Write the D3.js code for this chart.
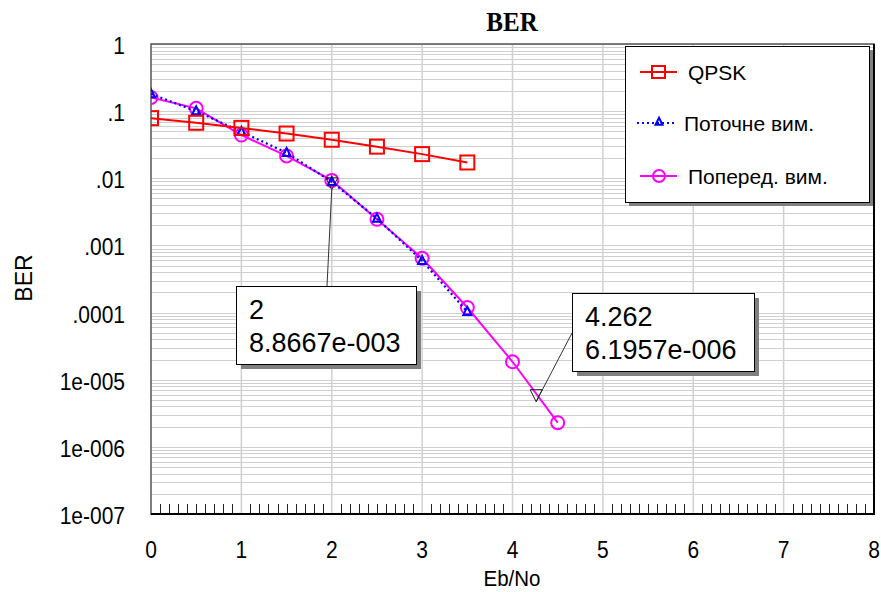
<!DOCTYPE html>
<html><head><meta charset="utf-8">
<script src="https://cdn.jsdelivr.net/npm/d3@7"></script>
<style>body{margin:0;background:#fff}svg{display:block}</style>
</head><body><svg id="chart" width="881" height="592"></svg>
<script>
// Bit error rate versus Eb/No for QPSK and two measurement runs
const ebno = [0, 0.5, 1, 1.5, 2, 2.5, 3, 3.5, 4, 4.5];
const qpsk = [0.0786, 0.0671, 0.0563, 0.0464, 0.0375, 0.0296, 0.0229, 0.0172];
const current = [0.18, 0.100, 0.0494, 0.0240, 0.0088667, 0.00252, 0.000592, 0.000103];
const previous = [0.16, 0.110, 0.0441, 0.0215, 0.0093, 0.00245, 0.000643, 0.000119, 0.0000185, 0.00000229];
const seriesNames = ["QPSK", "Поточне вим.", "Поперед. вим."];
const yTickValues = [1, 0.1, 0.01, 0.001, 0.0001, 1e-5, 1e-6, 1e-7];
const yTickLabels = ["1", ".1", ".01", ".001", ".0001", "1e-005", "1e-006", "1e-007"];
const xTickValues = [0, 1, 2, 3, 4, 5, 6, 7, 8];
const markerX = [2, 4.262];
const markerY = [8.8667e-3, 6.1957e-6];
const markerLabels = [["2", "8.8667e-003"], ["4.262", "6.1957e-006"]];

const svg = d3.select("#chart");
const L = 151, R = 874, T = 44, B = 514;
const x = d3.scaleLinear().domain([0, 8]).range([L, R]);
const y = d3.scaleLog().domain([1e-7, 1]).range([B, T]);
const font = "Arial, 'Liberation Sans', sans-serif";

// text that is slightly taller than wide, anchored at its baseline
function tallText(parent, tx, ty, str, size, anchor, sy) {
  parent.append("g").attr("transform", `translate(${tx},${ty}) scale(1,${sy})`)
    .append("text").attr("text-anchor", anchor)
    .attr("font-family", font).attr("font-size", size).text(str);
}

svg.append("rect").attr("x", L).attr("y", T).attr("width", R - L).attr("height", B - T).attr("fill", "#fff");

// horizontal grid at every log subdivision
svg.append("g").selectAll("line").data(y.ticks()).join("line")
  .attr("x1", L).attr("x2", R)
  .attr("y1", d => Math.round(y(d)) + 0.5).attr("y2", d => Math.round(y(d)) + 0.5)
  .attr("stroke", "#cfcfcf").attr("stroke-width", 1);

// vertical grid at integer Eb/No
svg.append("g").selectAll("line").data(xTickValues.slice(1, -1)).join("line")
  .attr("x1", d => x(d)).attr("x2", d => x(d))
  .attr("y1", T).attr("y2", B)
  .attr("stroke", "#d0d0d0").attr("stroke-width", 1.5);

// minor x ticks every 0.1 along the bottom
svg.append("g").selectAll("line")
  .data(x.ticks(80).filter(d => Math.abs(d - Math.round(d)) > 1e-6))
  .join("line")
  .attr("x1", d => Math.round(x(d)) + 0.5).attr("x2", d => Math.round(x(d)) + 0.5)
  .attr("y1", B).attr("y2", B - 10)
  .attr("stroke", "#222").attr("stroke-width", 1);

// frame
svg.append("rect").attr("x", L).attr("y", T).attr("width", R - L).attr("height", B - T)
  .attr("fill", "none").attr("stroke", "#555").attr("stroke-width", 1.5);
svg.append("path").attr("d", `M${L},${B}H${R}V${T}`)
  .attr("fill", "none").attr("stroke", "#000").attr("stroke-width", 2);

// axis labels
const yAxisG = svg.append("g");
yTickValues.forEach((v, i) => tallText(yAxisG, 125, y(v) + 10, yTickLabels[i], 21, "end", 1.1));
const xAxisG = svg.append("g");
xTickValues.forEach(v => tallText(xAxisG, x(v), 558, String(v), 21, "middle", 1.1));

svg.append("g").attr("transform", "translate(512,31) scale(1,1.07)").append("text")
  .attr("text-anchor", "middle")
  .attr("font-family", "'Times New Roman', 'Liberation Serif', serif").attr("font-weight", "bold")
  .attr("font-size", 25).text("BER");
tallText(svg, 512, 586, "Eb/No", 20.5, "middle", 1.1);
svg.append("text").attr("transform", "translate(31.5,278) rotate(-90)").attr("text-anchor", "middle")
  .attr("font-family", font).attr("font-size", 23).text("BER");

// plotted data, clipped to the plot area
svg.append("clipPath").attr("id", "plotClip").append("rect")
  .attr("x", L).attr("y", T).attr("width", R - L).attr("height", B - T);
const plot = svg.append("g").attr("clip-path", "url(#plotClip)");
const line = d3.line().x(d => x(d[0])).y(d => y(d[1]));
const pts = vals => vals.map((v, i) => [ebno[i], v]);

const triPath = (cx, cy, s) => `M${cx},${cy - s * 0.6}L${cx + s / 2},${cy + s * 0.4}L${cx - s / 2},${cy + s * 0.4}Z`;

// previous run
plot.append("path").datum(pts(previous)).attr("d", line)
  .attr("fill", "none").attr("stroke", "#ff00ff").attr("stroke-width", 2);
plot.append("g").selectAll("circle").data(pts(previous)).join("circle")
  .attr("cx", d => x(d[0])).attr("cy", d => y(d[1])).attr("r", 6.5)
  .attr("fill", "none").attr("stroke", "#ff00ff").attr("stroke-width", 2);

// current run
plot.append("path").datum(pts(current)).attr("d", line)
  .attr("fill", "none").attr("stroke", "#0000ff").attr("stroke-width", 2.2)
  .attr("stroke-dasharray", "2 3");
plot.append("g").selectAll("path").data(pts(current)).join("path")
  .attr("d", d => triPath(x(d[0]), y(d[1]), 8))
  .attr("fill", "none").attr("stroke", "#0000ff").attr("stroke-width", 2);

// QPSK
plot.append("path").datum(pts(qpsk)).attr("d", line)
  .attr("fill", "none").attr("stroke", "#ff0000").attr("stroke-width", 2);
plot.append("g").selectAll("rect").data(pts(qpsk)).join("rect")
  .attr("x", d => x(d[0]) - 7).attr("y", d => y(d[1]) - 7).attr("width", 14).attr("height", 14)
  .attr("fill", "none").attr("stroke", "#ff0000").attr("stroke-width", 2);

// value markers with callout boxes
const boxes = [
  { x: 236, y: 286, w: 180, h: 78, ax: 327, ay: 286 },
  { x: 572, y: 293, w: 182, h: 78, ax: 572, ay: 333 }
];
markerX.forEach((mx, i) => {
  const px = x(mx), py = y(markerY[i]);
  const b = boxes[i];
  const g = svg.append("g");
  g.append("line").attr("x1", px).attr("y1", py + 8).attr("x2", b.ax).attr("y2", b.ay)
    .attr("stroke", "#333").attr("stroke-width", 1);
  g.append("path")
    .attr("d", `M${px - 6},${py - 4}L${px + 6},${py - 4}L${px},${py + 8}Z`)
    .attr("fill", "none").attr("stroke", "#222").attr("stroke-width", 1);
  g.append("rect").attr("x", b.x + 5).attr("y", b.y + 5).attr("width", b.w).attr("height", b.h)
    .attr("fill", "#808080");
  g.append("rect").attr("x", b.x + 0.5).attr("y", b.y + 0.5).attr("width", b.w).attr("height", b.h)
    .attr("fill", "#fff").attr("stroke", "#000").attr("stroke-width", 1);
  markerLabels[i].forEach((t, k) => {
    g.append("text").attr("x", b.x + 13).attr("y", b.y + 33 + k * 33)
      .attr("font-family", font).attr("font-size", 27).text(t);
  });
});

// legend
const lg = svg.append("g");
lg.append("rect").attr("x", 629).attr("y", 50).attr("width", 244).attr("height", 156).attr("fill", "#808080");
lg.append("rect").attr("x", 625.5).attr("y", 46.5).attr("width", 244).attr("height", 156)
  .attr("fill", "#fff").attr("stroke", "#000").attr("stroke-width", 1);
const legendY = [72, 123, 176];
const legendColors = ["#ff0000", "#0000ff", "#ff00ff"];
seriesNames.forEach((name, i) => {
  const ly = legendY[i];
  const item = lg.append("g");
  item.append("line").attr("x1", i === 1 ? 637 : 640).attr("x2", 677).attr("y1", ly).attr("y2", ly)
    .attr("stroke", legendColors[i]).attr("stroke-width", 2)
    .attr("stroke-dasharray", i === 1 ? "2 3" : null);
  if (i === 0) item.append("rect").attr("x", 652).attr("y", ly - 6).attr("width", 13).attr("height", 12)
    .attr("fill", "none").attr("stroke", legendColors[i]).attr("stroke-width", 2);
  if (i === 1) item.append("path").attr("d", triPath(659, ly - 1, 7))
    .attr("fill", "none").attr("stroke", legendColors[i]).attr("stroke-width", 2);
  if (i === 2) item.append("circle").attr("cx", 659).attr("cy", ly).attr("r", 6)
    .attr("fill", "none").attr("stroke", legendColors[i]).attr("stroke-width", 2);
  item.append("text").attr("x", i === 1 ? 684 : 688).attr("y", ly + 8)
    .attr("font-family", font).attr("font-size", 21).text(name);
});
</script></body></html>
